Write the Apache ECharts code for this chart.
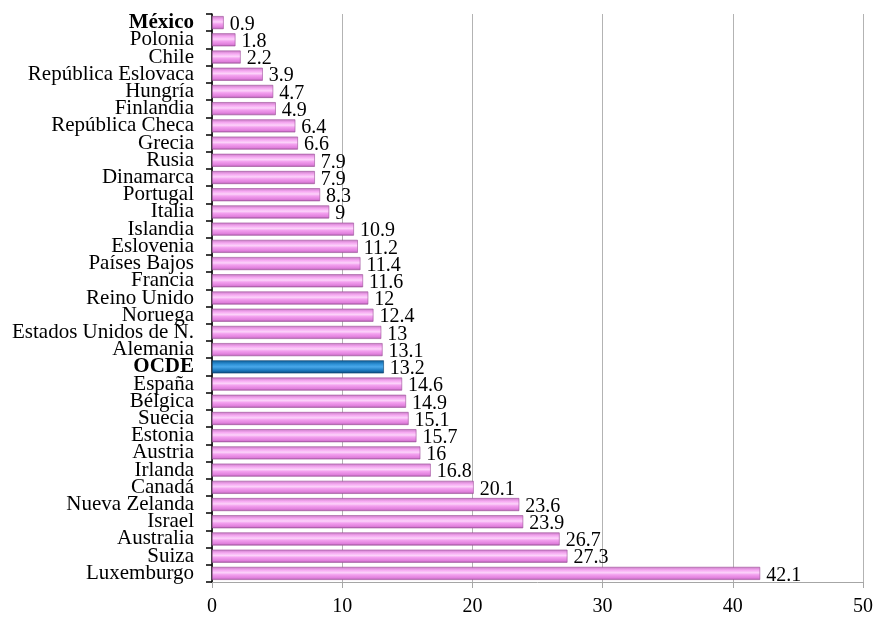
<!DOCTYPE html>
<html><head><meta charset="utf-8">
<script src="https://cdn.jsdelivr.net/npm/echarts@6/dist/echarts.min.js"></script>
<style>html,body{margin:0;padding:0;background:#fff}#c{width:879px;height:617px}</style>
</head><body><div id="c"></div>
<script>
const categories = ["México","Polonia","Chile","República Eslovaca","Hungría","Finlandia","República Checa","Grecia","Rusia","Dinamarca","Portugal","Italia","Islandia","Eslovenia","Países Bajos","Francia","Reino Unido","Noruega","Estados Unidos de N.","Alemania","OCDE","España","Bélgica","Suecia","Estonia","Austria","Irlanda","Canadá","Nueva Zelanda","Israel","Australia","Suiza","Luxemburgo"];
const values = [0.9,1.8,2.2,3.9,4.7,4.9,6.4,6.6,7.9,7.9,8.3,9,10.9,11.2,11.4,11.6,12,12.4,13,13.1,13.2,14.6,14.9,15.1,15.7,16,16.8,20.1,23.6,23.9,26.7,27.3,42.1];
const boldCats = ["México","OCDE"];
const highlightCat = "OCDE";

const pink = new echarts.graphic.LinearGradient(0,0,0,1,[
  {offset:0,color:'#c77ac4'},{offset:0.25,color:'#f6a9f2'},{offset:0.45,color:'#fcd3fa'},
  {offset:0.6,color:'#f3a0ef'},{offset:0.85,color:'#e07fdc'},{offset:1,color:'#a85ca6'}]);
const blue = new echarts.graphic.LinearGradient(0,0,0,1,[
  {offset:0,color:'#0b5a94'},{offset:0.3,color:'#2f92d8'},{offset:0.5,color:'#4aa8ea'},
  {offset:0.75,color:'#1e7cc2'},{offset:1,color:'#0a4a7c'}]);

const chart = echarts.init(document.getElementById('c'));
chart.setOption({
  animation:false,
  grid:{left:212,right:16,top:14,bottom:34,containLabel:false},
  xAxis:{type:'value',min:0,max:50,interval:10,
    axisLine:{show:true,lineStyle:{color:'#a6a6a6'}},
    axisTick:{show:true,length:6,lineStyle:{color:'#a6a6a6'}},
    splitLine:{show:true,lineStyle:{color:'#b3b3b3'}},
    axisLabel:{color:'#000',fontFamily:'Liberation Serif',fontSize:20,margin:15}},
  yAxis:{type:'category',inverse:true,data:categories,
    axisLine:{show:true,lineStyle:{color:'#000',width:1.5}},
    axisTick:{show:true,length:6,lineStyle:{color:'#000',width:1.5}},
    axisLabel:{interval:0,color:'#000',fontFamily:'Liberation Serif',fontSize:21,margin:18,lineHeight:18,
      formatter:v=>boldCats.includes(v)?'{b|'+v+'}':v,
      rich:{b:{fontWeight:'bold',fontFamily:'Liberation Serif',fontSize:21,lineHeight:18,color:'#000'}}}},
  series:[{type:'bar',barWidth:13,
    data:values.map((v,i)=>({value:v,itemStyle:{color:categories[i]===highlightCat?blue:pink,
      borderColor:categories[i]===highlightCat?'#083e69':'#9c4f99',borderWidth:0.6}})),
    label:{show:true,position:'right',distance:6,color:'#000',fontFamily:'Liberation Serif',fontSize:20,lineHeight:18,offset:[0,2]}}]
});
</script></body></html>
